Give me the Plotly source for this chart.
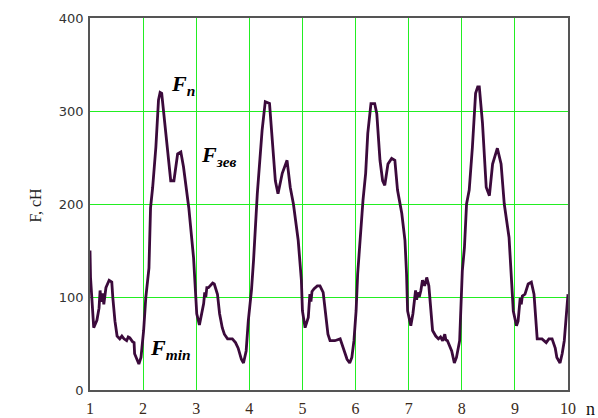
import plotly.graph_objects as go

n_vals = [1.00, 1.01, 1.07, 1.13, 1.17, 1.19, 1.21, 1.23, 1.24, 1.26, 1.28, 1.30, 1.36, 1.41, 1.43, 1.47,
          1.51, 1.56, 1.60, 1.64, 1.69, 1.72, 1.75, 1.80, 1.83, 1.84, 1.92, 1.96, 2.01, 2.05, 2.11, 2.14,
          2.18, 2.24, 2.29, 2.32, 2.35, 2.39, 2.46, 2.52, 2.58, 2.65, 2.71, 2.76, 2.86, 2.95, 3.01, 3.06,
          3.14, 3.16, 3.18, 3.20, 3.23, 3.31, 3.34, 3.40, 3.44, 3.49, 3.53, 3.59, 3.68, 3.74, 3.79, 3.85,
          3.89, 3.94, 3.98, 4.04, 4.08, 4.15, 4.24, 4.30, 4.38, 4.43, 4.49, 4.54, 4.62, 4.71, 4.77, 4.83,
          4.92, 4.98, 5.00, 5.05, 5.11, 5.14, 5.16, 5.18, 5.22, 5.28, 5.33, 5.39, 5.43, 5.48, 5.52, 5.61,
          5.71, 5.76, 5.84, 5.89, 5.93, 5.97, 6.01, 6.04, 6.12, 6.14, 6.19, 6.23, 6.29, 6.36, 6.40, 6.46,
          6.51, 6.55, 6.61, 6.68, 6.74, 6.79, 6.87, 6.93, 6.96, 6.98, 7.04, 7.08, 7.13, 7.15, 7.17, 7.20,
          7.23, 7.26, 7.30, 7.34, 7.38, 7.41, 7.45, 7.51, 7.56, 7.60, 7.64, 7.68, 7.70, 7.73, 7.81, 7.86,
          7.90, 7.96, 7.99, 8.01, 8.05, 8.09, 8.14, 8.20, 8.26, 8.30, 8.33, 8.39, 8.46, 8.52, 8.58, 8.67,
          8.74, 8.80, 8.89, 8.93, 8.97, 9.03, 9.06, 9.10, 9.12, 9.14, 9.19, 9.25, 9.31, 9.36, 9.40, 9.42,
          9.51, 9.59, 9.64, 9.70, 9.76, 9.79, 9.85, 9.89, 9.93, 9.96, 10.00]

F_vals = [150, 121, 67, 75, 88, 107, 95, 100, 104, 92, 102, 110, 118, 116, 99, 74,
          58, 55, 58, 55, 53, 57, 56, 52, 51, 39, 28, 35, 64, 99, 131, 196,
          218, 261, 312, 320, 319, 297, 261, 225, 225, 254, 256, 240, 196, 142, 82, 70,
          93, 105, 100, 110, 110, 115, 114, 103, 82, 67, 60, 55, 55, 51, 45, 33,
          29, 42, 74, 107, 140, 211, 279, 310, 308, 268, 225, 211, 233, 247, 218, 200,
          161, 118, 85, 67, 78, 103, 95, 106, 109, 112, 112, 105, 85, 60, 53, 53,
          55, 47, 33, 29, 35, 53, 85, 125, 190, 204, 233, 276, 308, 308, 297, 247,
          225, 220, 243, 249, 247, 215, 190, 161, 125, 85, 69, 82, 107, 97, 105, 100,
          107, 118, 112, 121, 112, 93, 64, 58, 55, 57, 53, 60, 54, 53, 42, 29,
          35, 53, 93, 128, 153, 200, 215, 261, 319, 326, 326, 287, 218, 209, 243, 260,
          243, 200, 164, 121, 85, 69, 74, 99, 92, 101, 103, 114, 116, 103, 74, 55,
          55, 51, 55, 55, 45, 35, 29, 39, 53, 77, 103]

x_ticks = [1, 2, 3, 4, 5, 6, 7, 8, 9, 10]
y_ticks = [0, 100, 200, 300, 400]

labels = [
    ("<b><i>F</i></b><sub><b><i>п</i></b></sub>", 2.48, 328),
    ("<b><i>F</i></b><sub><b><i>зев</i></b></sub>", 3.05, 252),
    ("<b><i>F</i></b><sub><b><i>min</i></b></sub>", 2.10, 44),
]

fig = go.Figure()
fig.add_trace(go.Scatter(x=n_vals, y=F_vals, mode="lines",
                         line=dict(color="#3b0a3b", width=2.8), showlegend=False))

for txt, lx, ly in labels:
    fig.add_annotation(x=lx, y=ly, text=txt, showarrow=False, xanchor="left", yanchor="middle",
                       font=dict(family="Liberation Serif", size=22, color="#000000"))

fig.add_annotation(xref="paper", yref="paper", x=1.047, y=-0.05, text="n", borderpad=0,
                   xanchor="center", yanchor="middle",
                   showarrow=False, font=dict(family="Liberation Serif", size=18, color="#111111"))
fig.add_annotation(xref="paper", yref="paper", x=-0.136, y=0.497, text="F, cH", textangle=-90,
                   showarrow=False, font=dict(family="Liberation Serif", size=16, color="#222222"))

fig.update_layout(
    width=598, height=418,
    margin=dict(l=90, r=30, t=18, b=28, autoexpand=False),
    paper_bgcolor="white", plot_bgcolor="white",
    xaxis=dict(range=[1, 10], tickvals=x_ticks, showgrid=True, gridcolor="#22ee22", gridwidth=1,
               zeroline=False, showline=True, linecolor="#555555", linewidth=1.5, mirror=True,
               ticks="", ticklabelstandoff=3,
               tickfont=dict(family="Liberation Serif", size=16, color="#3a2a1a")),
    yaxis=dict(range=[0, 400], tickvals=y_ticks, showgrid=True, gridcolor="#22ee22", gridwidth=1,
               zeroline=False, showline=True, linecolor="#555555", linewidth=1.5, mirror=True,
               ticks="", ticklabelstandoff=2,
               tickfont=dict(family="DejaVu Sans", size=13, color="#333333")),
)

fig.write_html("out.html", config={"displayModeBar": False},
               post_script="document.body.style.margin='0';document.body.style.overflow='hidden';")
